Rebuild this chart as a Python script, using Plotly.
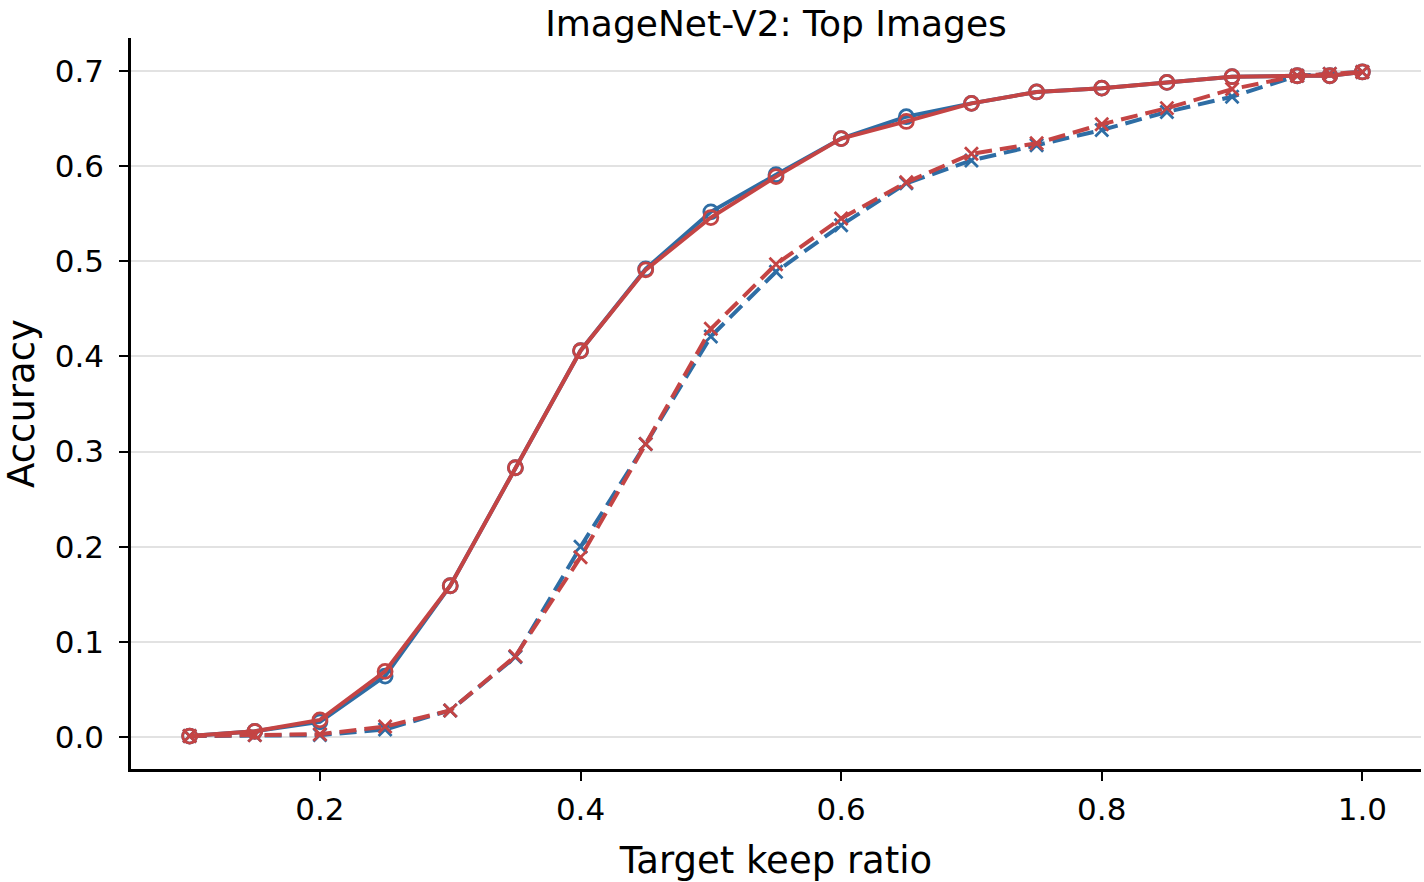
import plotly.graph_objects as go

keep_ratio = [0.1, 0.15, 0.2, 0.25, 0.3, 0.35, 0.4, 0.45, 0.5, 0.55, 0.6, 0.65,
              0.7, 0.75, 0.8, 0.85, 0.9, 0.95, 0.975, 1.0]

blue_solid = [0.001, 0.006, 0.016, 0.064, 0.159, 0.283, 0.406, 0.492, 0.552, 0.591,
              0.629, 0.652, 0.666, 0.678, 0.682, 0.688, 0.694, 0.695, 0.695, 0.699]
red_solid = [0.001, 0.006, 0.018, 0.069, 0.159, 0.283, 0.406, 0.491, 0.546, 0.589,
             0.629, 0.647, 0.666, 0.678, 0.682, 0.688, 0.694, 0.695, 0.695, 0.699]
blue_dashed = [0.001, 0.002, 0.002, 0.008, 0.028, 0.084, 0.200, 0.308, 0.421, 0.489,
               0.538, 0.582, 0.606, 0.622, 0.638, 0.657, 0.673, 0.695, 0.697, 0.699]
red_dashed = [0.001, 0.002, 0.003, 0.011, 0.028, 0.085, 0.189, 0.308, 0.429, 0.497,
              0.545, 0.583, 0.613, 0.624, 0.644, 0.661, 0.681, 0.695, 0.697, 0.699]

x_ticks = [0.2, 0.4, 0.6, 0.8, 1.0]
y_ticks = [0.0, 0.1, 0.2, 0.3, 0.4, 0.5, 0.6, 0.7]

BLUE = "#2e6da4"
RED = "#c44444"
FONT = "DejaVu Sans"

fig = go.Figure()

def add(y, color, dashed):
    fig.add_trace(go.Scatter(
        x=keep_ratio, y=y, mode="lines+markers",
        line=dict(color=color, width=4, dash="17px,8px" if dashed else "solid"),
        marker=dict(symbol="x-thin-open" if dashed else "circle-open",
                    size=13 if dashed else 14,
                    color=color, line=dict(color=color, width=2.8)),
        showlegend=False,
    ))

add(blue_dashed, BLUE, True)
add(blue_solid, BLUE, False)
add(red_dashed, RED, True)
add(red_solid, RED, False)

fig.update_layout(
    width=1424, height=882,
    margin=dict(l=131, r=3, t=38, b=113),
    paper_bgcolor="white", plot_bgcolor="white",
    font=dict(family=FONT, color="black", size=31),
    title=dict(text="ImageNet-V2: Top Images", x=(131 + 1421) / 2 / 1424, xanchor="center",
               y=1 - 23 / 882, yanchor="middle", yref="container",
               font=dict(family=FONT, size=36, color="black")),
)
fig.update_xaxes(
    range=[0.055, 1.045], tickvals=x_ticks, ticktext=[f"{v:.1f}" for v in x_ticks],
    showgrid=False, zeroline=False,
    showline=True, linecolor="black", linewidth=2.5,
    ticks="outside", ticklen=9, tickwidth=2, tickcolor="black",
    tickfont=dict(size=31, family=FONT), ticklabelstandoff=2,
    title=dict(text="Target keep ratio", font=dict(size=37, family=FONT), standoff=22),
)
fig.update_yaxes(
    range=[-0.0336, 0.7347], tickvals=y_ticks, ticktext=[f"{v:.1f}" for v in y_ticks],
    showgrid=True, gridcolor="#e2e2e2", gridwidth=1.5, zeroline=False,
    showline=True, linecolor="black", linewidth=2.5,
    ticks="outside", ticklen=9, tickwidth=2, tickcolor="black",
    tickfont=dict(size=31, family=FONT), ticklabelstandoff=9,
    title=dict(text="Accuracy", font=dict(size=37, family=FONT), standoff=14),
)

fig.write_html("out.html")
